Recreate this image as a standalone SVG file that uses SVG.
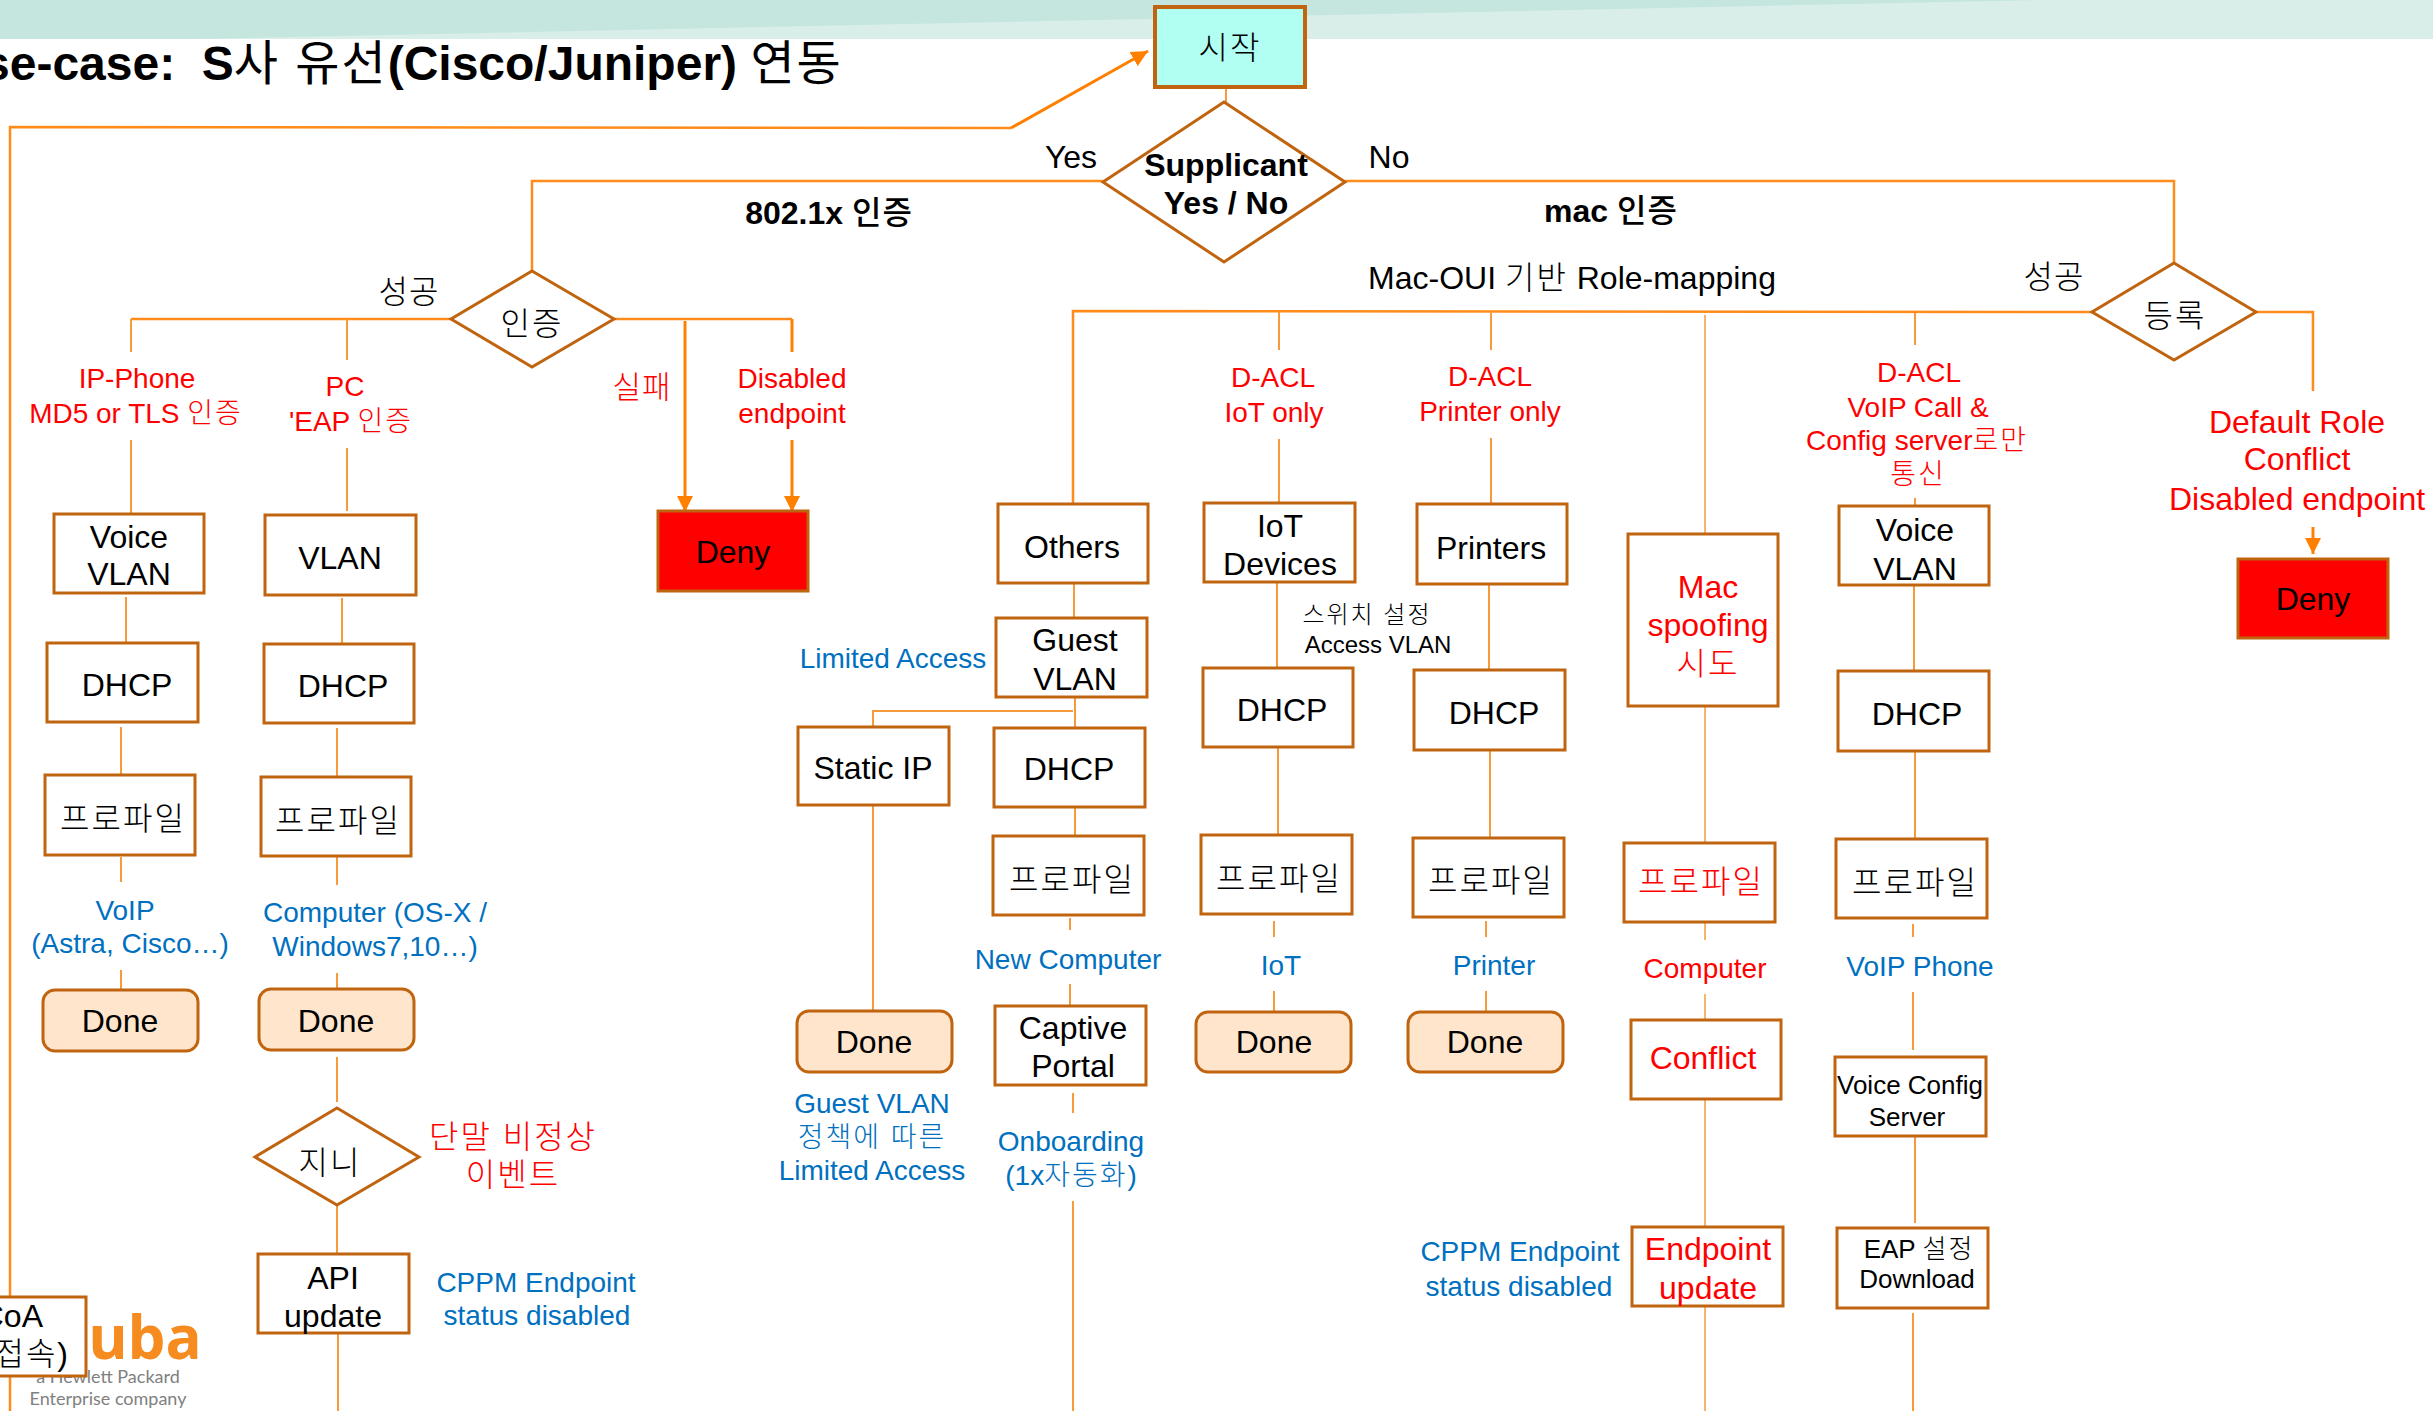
<svg xmlns="http://www.w3.org/2000/svg" width="2433" height="1411" viewBox="0 0 2433 1411">
<style>
text{font-family:"Liberation Sans","Noto Sans CJK KR",sans-serif;text-anchor:middle;font-size:32px;fill:#000}
.r{fill:#f00;font-size:28px}.rl{fill:#f00;font-size:32px}.b{fill:#0070c0;font-size:28px}.bold{font-weight:700}.s{font-size:24px}.m{font-size:26px}
.k{letter-spacing:2px;font-weight:300}.k1{letter-spacing:1px;font-weight:300}.km{letter-spacing:1px;font-weight:500}.kt{letter-spacing:2px;font-weight:400}
.box{fill:#fff;stroke:#c06410;stroke-width:3}.done{fill:#fee5cc;stroke:#c06410;stroke-width:3}
.deny{fill:#f00;stroke:#c06410;stroke-width:3}.start{fill:#b0fff2;stroke:#c06410;stroke-width:4}
.c path{fill:none;stroke:#f79a3c;stroke-width:2}.thick{stroke:#ff8c1a!important;stroke-width:2.5!important}
.a{stroke:#ff8000!important;stroke-width:3!important}
</style>
<defs>
<marker id="ah" viewBox="0 0 10 10" refX="10" refY="5" markerWidth="5.5" markerHeight="6" markerUnits="strokeWidth" orient="auto"><path d="M0 0L10 5L0 10Z" fill="#ff8000" stroke="none"/></marker>
</defs>
<g id="banner">
<rect width="2433" height="39" fill="#d9eee9"/>
<path d="M0 0H2040L200 39H0Z" fill="#c5e6df"/>
</g>
<text id="title" x="-17" y="80" class="bold" style="text-anchor:start;font-size:48px">se-case:&#160;&#160;S<tspan class="kt">사 유선</tspan>(Cisco/Juniper) <tspan class="kt">연동</tspan></text>
<g id="connectors" class="c">
<path class="thick" d="M10 1411V127L1011 128"/>
<path class="a" d="M1011 128L1148 51" marker-end="url(#ah)"/>
<path d="M1226 88V102"/>
<path class="thick" d="M1103 181H532V271"/>
<path class="thick" d="M1345 181H2174V263"/>
<path class="thick" d="M451 319H131M614 319H792"/>
<path d="M131 319V352M131 440V514M347 319V360M347 448V511"/>
<path class="a" d="M685 321V512" marker-end="url(#ah)"/>
<path class="a" d="M792 319V352M792 440V512" marker-end="url(#ah)"/>
<path d="M126 597V642M121 727V775M121 857V882M121 970V992"/>
<path d="M342 598V644M337 728V776M337 856V885M337 973V992M337 1057V1102M337 1205V1254M338 1333V1411"/>
<path class="thick" d="M2092 312L1073 311V504"/>
<path d="M1074 583V618M1075 697V728M1073 711H873V727M873 805V1011"/>
<path d="M1075 807V836M1070 918V930M1070 984V1005M1073 1093V1113M1073 1201V1411"/>
<path d="M1279 312V350M1279 439V503M1277 582V668M1278 747V835M1274 921V937M1274 991V1012"/>
<path d="M1491 313V350M1491 438V504M1489 584V670M1490 750V838M1486 921V937M1486 991V1012"/>
<path d="M1705 315V534M1705 706V843M1705 922V940M1705 994V1019M1705 1099V1226M1705 1306V1411" style="stroke-width:1.5"/>
<path d="M1915 313V345M1915 498V506M1914 585V671M1915 751V838M1913 924V937M1913 992V1050M1915 1136V1223M1913 1313V1411"/>
<path class="thick" d="M2256 312H2313V391"/>
<path class="a" d="M2313 527V554" marker-end="url(#ah)"/>
</g>
<g id="start"><rect class="start" x="1155" y="7" width="150" height="80"/><text class="k" x="1230" y="59">시작</text></g>
<g id="supplicant"><path class="box" d="M1224 102L1345 182L1224 262L1103 182Z"/><text class="bold" x="1226" y="176">Supplicant</text><text class="bold" x="1226" y="214">Yes / No</text></g>
<g id="auth"><path class="box" d="M532 271L614 319L532 367L451 319Z"/><text class="k" x="532" y="335">인증</text></g>
<g id="register"><path class="box" d="M2174 263L2256 312L2174 360L2092 312Z"/><text class="k" x="2175" y="327">등록</text></g>
<g id="genie"><path class="box" d="M337 1108L419 1157L337 1205L255 1157Z"/><text class="k" x="330" y="1174">지니</text></g>

<g id="labels">
<text x="1071" y="168">Yes</text><text x="1389" y="168">No</text>
<text class="bold" x="829" y="224">802.1x <tspan class="km">인증</tspan></text><text class="bold" x="1611" y="222">mac <tspan class="km">인증</tspan></text>
<text x="1572" y="289">Mac-OUI <tspan class="k">기반</tspan> Role-mapping</text>
<text class="k1" x="409" y="303">성공</text><text class="k1" x="2054" y="288">성공</text>
<text class="r" x="137" y="388">IP-Phone</text><text class="r" x="136" y="423">MD5 or TLS <tspan class="k">인증</tspan></text>
<text class="r" x="345" y="396">PC</text><text class="r" x="351" y="431">'EAP <tspan class="k">인증</tspan></text>
<text class="r k1" x="642" y="398" style="font-size:31px">실패</text>
<text class="r" x="792" y="388">Disabled</text><text class="r" x="792" y="423">endpoint</text>
<text class="r" x="1273" y="387">D-ACL</text><text class="r" x="1274" y="422">IoT only</text>
<text class="r" x="1490" y="386">D-ACL</text><text class="r" x="1490" y="421">Printer only</text>
<text class="r" x="1919" y="382">D-ACL</text><text class="r" x="1918" y="417">VoIP Call &amp;</text><text class="r" x="1917" y="450">Config server<tspan class="k">로만</tspan></text><text class="r k" x="1918" y="484">통신</text>
<text class="rl" x="2297" y="433">Default Role</text><text class="rl" x="2297" y="470">Conflict</text><text class="rl" x="2297" y="510">Disabled endpoint</text>
<text class="b" x="125" y="920">VoIP</text><text class="b" x="130" y="953">(Astra, Cisco…)</text>
<text class="b" x="375" y="922">Computer (OS-X /</text><text class="b" x="375" y="956">Windows7,10…)</text>
<text class="r k" x="513" y="1148" style="font-size:32px">단말 비정상</text><text class="r k" x="513" y="1186" style="font-size:32px">이벤트</text>
<text class="b" x="536" y="1292">CPPM Endpoint</text><text class="b" x="537" y="1325">status disabled</text>
<text class="b" x="893" y="668">Limited Access</text>
<text class="b" x="1068" y="969">New Computer</text>
<text class="b" x="872" y="1113">Guest VLAN</text><text class="b k" x="872" y="1147">정책에 따른</text><text class="b" x="872" y="1180">Limited Access</text>
<text class="b" x="1071" y="1151">Onboarding</text><text class="b" x="1071" y="1185">(1x<tspan class="k">자동화</tspan>)</text>
<text class="b" x="1281" y="975">IoT</text><text class="b" x="1494" y="975">Printer</text>
<text class="r" x="1705" y="978">Computer</text><text class="b" x="1920" y="976">VoIP Phone</text>
<text class="b" x="1520" y="1261">CPPM Endpoint</text><text class="b" x="1519" y="1296">status disabled</text>
<text class="s k" x="1367" y="623">스위치 설정</text><text class="s" x="1378" y="653">Access VLAN</text>
</g>

<g id="logo">
<text x="145" y="1359" style="font-family:'Open Sans','Liberation Sans',sans-serif;font-weight:700;font-size:60px;fill:#f68b1f">uba</text>
<text x="108" y="1383" style="font-size:18px;fill:#808080;font-family:Lato,'Liberation Sans',sans-serif">a Hewlett Packard</text>
<text x="108" y="1405" style="font-size:18px;fill:#808080;font-family:Lato,'Liberation Sans',sans-serif">Enterprise company</text>
</g>

<g id="deny1"><rect class="deny" x="658" y="511" width="150" height="80"/><text x="733" y="563">Deny</text></g>
<g id="deny2"><rect class="deny" x="2238" y="559" width="150" height="79"/><text x="2313" y="610">Deny</text></g>

<g id="voicevlan1"><rect class="box" x="54" y="514" width="150" height="79"/><text x="129" y="548">Voice</text><text x="129" y="585">VLAN</text></g>
<g id="dhcp1"><rect class="box" x="47" y="643" width="151" height="79"/><text x="127" y="696">DHCP</text></g>
<g id="profile1"><rect class="box" x="45" y="775" width="150" height="80"/><text class="k" x="123" y="830">프로파일</text></g>
<g id="done1"><rect class="done" x="43" y="990" width="155" height="61" rx="12"/><text x="120" y="1032">Done</text></g>

<g id="vlan2"><rect class="box" x="265" y="515" width="151" height="80"/><text x="340" y="569">VLAN</text></g>
<g id="dhcp2"><rect class="box" x="264" y="644" width="150" height="79"/><text x="343" y="697">DHCP</text></g>
<g id="profile2"><rect class="box" x="261" y="777" width="150" height="79"/><text class="k" x="338" y="832">프로파일</text></g>
<g id="done2"><rect class="done" x="259" y="989" width="155" height="61" rx="12"/><text x="336" y="1032">Done</text></g>
<g id="api"><rect class="box" x="258" y="1254" width="151" height="79"/><text x="333" y="1289">API</text><text x="333" y="1327">update</text></g>
<g id="coa"><rect class="box" x="-65" y="1297" width="151" height="79"/><text x="43" y="1327" style="text-anchor:end">CoA</text><text class="k" x="70" y="1365" style="text-anchor:end">접속)</text></g>

<g id="others"><rect class="box" x="998" y="504" width="150" height="79"/><text x="1072" y="558">Others</text></g>
<g id="guestvlan"><rect class="box" x="996" y="618" width="151" height="79"/><text x="1075" y="651">Guest</text><text x="1075" y="690">VLAN</text></g>
<g id="staticip"><rect class="box" x="798" y="727" width="151" height="78"/><text x="873" y="779">Static IP</text></g>
<g id="dhcp3"><rect class="box" x="994" y="728" width="151" height="79"/><text x="1069" y="780">DHCP</text></g>
<g id="profile3"><rect class="box" x="993" y="836" width="151" height="79"/><text class="k" x="1072" y="891">프로파일</text></g>
<g id="done3"><rect class="done" x="797" y="1011" width="155" height="61" rx="12"/><text x="874" y="1053">Done</text></g>
<g id="captive"><rect class="box" x="995" y="1006" width="151" height="79"/><text x="1073" y="1039">Captive</text><text x="1073" y="1077">Portal</text></g>

<g id="iotdevices"><rect class="box" x="1204" y="503" width="151" height="79"/><text x="1280" y="537">IoT</text><text x="1280" y="575">Devices</text></g>
<g id="dhcp4"><rect class="box" x="1203" y="668" width="150" height="79"/><text x="1282" y="721">DHCP</text></g>
<g id="profile4"><rect class="box" x="1201" y="835" width="151" height="79"/><text class="k" x="1279" y="890">프로파일</text></g>
<g id="done4"><rect class="done" x="1196" y="1012" width="155" height="60" rx="12"/><text x="1274" y="1053">Done</text></g>

<g id="printers"><rect class="box" x="1417" y="504" width="150" height="80"/><text x="1491" y="559">Printers</text></g>
<g id="dhcp5"><rect class="box" x="1414" y="670" width="151" height="80"/><text x="1494" y="724">DHCP</text></g>
<g id="profile5"><rect class="box" x="1413" y="838" width="151" height="79"/><text class="k" x="1491" y="892">프로파일</text></g>
<g id="done5"><rect class="done" x="1408" y="1012" width="155" height="60" rx="12"/><text x="1485" y="1053">Done</text></g>

<g id="spoofing"><rect class="box" x="1628" y="534" width="150" height="172"/><text class="rl" x="1708" y="598">Mac</text><text class="rl" x="1708" y="636">spoofing</text><text class="rl k" x="1708" y="675">시도</text></g>
<g id="profile6"><rect class="box" x="1624" y="843" width="151" height="79"/><text class="rl k" x="1701" y="893">프로파일</text></g>
<g id="conflict"><rect class="box" x="1631" y="1020" width="150" height="79"/><text class="rl" x="1703" y="1069">Conflict</text></g>
<g id="endpoint"><rect class="box" x="1632" y="1227" width="151" height="79"/><text class="rl" x="1708" y="1260">Endpoint</text><text class="rl" x="1708" y="1299">update</text></g>

<g id="voicevlan7"><rect class="box" x="1839" y="506" width="150" height="79"/><text x="1915" y="541">Voice</text><text x="1915" y="580">VLAN</text></g>
<g id="dhcp7"><rect class="box" x="1838" y="671" width="151" height="80"/><text x="1917" y="725">DHCP</text></g>
<g id="profile7"><rect class="box" x="1836" y="839" width="151" height="79"/><text class="k" x="1915" y="894">프로파일</text></g>
<g id="voiceconfig"><rect class="box" x="1835" y="1057" width="151" height="79"/><text class="m" x="1910" y="1094">Voice Config</text><text class="m" x="1907" y="1126">Server</text></g>
<g id="eap"><rect class="box" x="1837" y="1228" width="151" height="80"/><text class="m" x="1919" y="1258">EAP <tspan class="k">설정</tspan></text><text class="m" x="1917" y="1288">Download</text></g>
</svg>
